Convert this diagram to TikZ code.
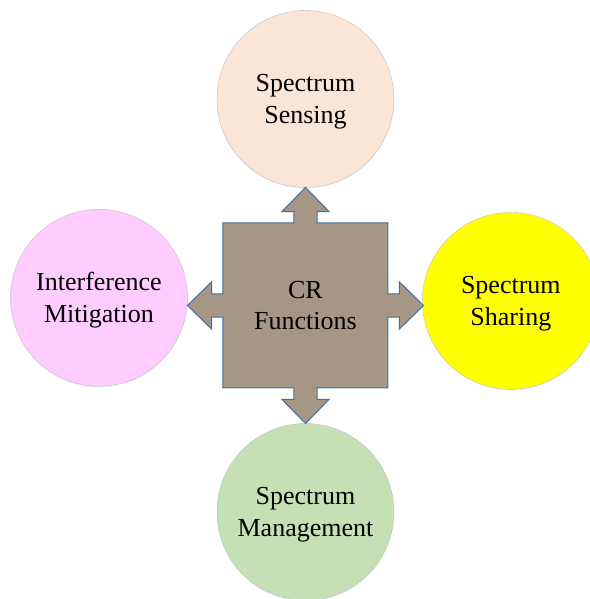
\documentclass[tikz,border=0pt]{standalone}
\usepackage{fontspec}
\setmainfont{Liberation Serif}
\usetikzlibrary{shadows}
\definecolor{sensecol}{HTML}{FBE5D6}
\definecolor{mitigcol}{HTML}{FFCCFF}
\definecolor{sharecol}{HTML}{FFFF00}
\definecolor{managecol}{HTML}{C5E0B4}
\definecolor{rimgray}{HTML}{BFBFBF}
\definecolor{quadfill}{HTML}{A69686}
\definecolor{quadblue}{HTML}{41719C}
\tikzstyle{func} = [draw=rimgray, shape=circle, minimum size=6.22cm, inner sep=0pt, align=center, text depth=0pt, font=\fontsize{26}{32}\selectfont, drop shadow={shadow xshift=0pt, shadow yshift=-1.2pt, fill=quadblue!25, opacity=.35}]
\tikzstyle{quad} = [draw=quadblue, fill=quadfill, line width=1pt, line join=miter]

\begin{document}
\begin{tikzpicture}
    \useasboundingbox (-10.74,-10.32) rectangle (10.0,10.74);
    \draw (0,7.26) node[func, fill=sensecol] (sense) {Spectrum\\Sensing};
    \draw (-7.26,0.27) node[func, fill=mitigcol] (mitig) {Interference\\Mitigation};
    \draw (7.22,0.16) node[func, fill=sharecol] (share) {Spectrum\\Sharing};
    \draw (0,-7.26) node[func, fill=managecol] (manage) {Spectrum\\Management};
    \draw[quad] (-2.9,2.9) -- (-0.41,2.9) -- (-0.41,3.3) -- (-0.83,3.3) -- (0,4.15) -- (0.83,3.3) -- (0.41,3.3) -- (0.41,2.9)
        -- (2.9,2.9) -- (2.9,0.41) -- (3.3,0.41) -- (3.3,0.83) -- (4.15,0) -- (3.3,-0.83) -- (3.3,-0.41) -- (2.9,-0.41)
        -- (2.9,-2.9) -- (0.41,-2.9) -- (0.41,-3.3) -- (0.83,-3.3) -- (0,-4.15) -- (-0.83,-3.3) -- (-0.41,-3.3) -- (-0.41,-2.9)
        -- (-2.9,-2.9) -- (-2.9,-0.41) -- (-3.3,-0.41) -- (-3.3,-0.83) -- (-4.15,0) -- (-3.3,0.83) -- (-3.3,0.41) -- (-2.9,0.41) -- cycle;
    \draw (0,0) node[align=center, font=\fontsize{26}{31.5}\selectfont] (cr) {CR\\Functions};
\end{tikzpicture}
\end{document}
